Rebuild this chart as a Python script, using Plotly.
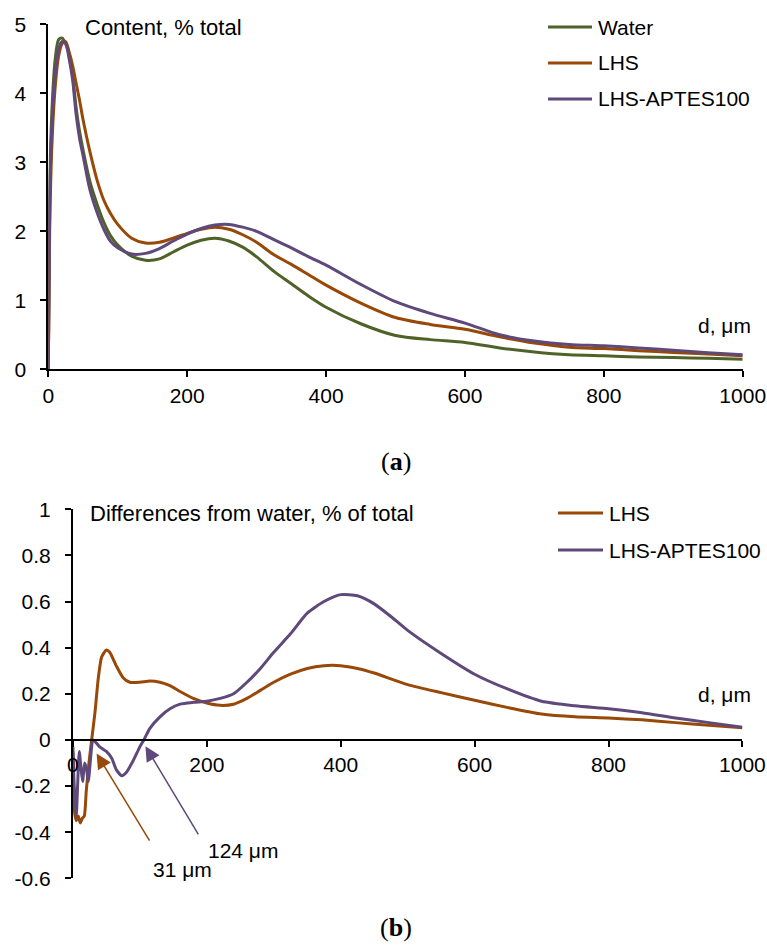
import plotly.graph_objects as go

# ---------------- data: panel (a) ----------------
top_d = [0, 2, 5, 10, 15, 20, 25, 30, 35, 40, 45, 50, 60, 70, 80, 90, 100, 120, 140, 160, 180,
         200, 220, 240, 260, 280, 300, 325, 350, 375, 400, 450, 500, 550, 600, 650, 700,
         750, 800, 850, 900, 950, 1000]
water = [0, 2.6, 3.7, 4.5, 4.78, 4.8, 4.72, 4.55, 4.25, 3.8, 3.45, 3.18, 2.72, 2.4, 2.13, 1.93, 1.8,
         1.64, 1.58, 1.6, 1.7, 1.8, 1.87, 1.9, 1.86, 1.77, 1.63, 1.42, 1.24, 1.06, 0.9, 0.66,
         0.49, 0.43, 0.39, 0.31, 0.25, 0.21, 0.195, 0.18, 0.17, 0.16, 0.145]
lhs = [0, 2.0, 3.2, 4.1, 4.55, 4.72, 4.75, 4.6, 4.4, 4.15, 3.9, 3.62, 3.15, 2.75, 2.45, 2.25, 2.1,
       1.9, 1.83, 1.84, 1.9, 1.97, 2.03, 2.06, 2.03, 1.95, 1.84, 1.66, 1.52, 1.37, 1.22, 0.96,
       0.75, 0.65, 0.58, 0.47, 0.38, 0.32, 0.3, 0.27, 0.245, 0.22, 0.195]
aptes = [0, 2.4, 3.5, 4.3, 4.65, 4.75, 4.72, 4.5, 4.2, 3.7, 3.35, 3.1, 2.6, 2.28, 2.03, 1.85, 1.76,
         1.67, 1.68, 1.75, 1.86, 1.96, 2.04, 2.09, 2.1, 2.06, 2.0, 1.88, 1.76, 1.63, 1.51, 1.23,
         0.98, 0.81, 0.67, 0.5, 0.41, 0.36, 0.34, 0.31, 0.275, 0.24, 0.21]

# ---------------- data: panel (b) ----------------
lhs_diff_d = [0, 2, 5, 8, 11, 14, 17, 20, 24, 28, 33, 38, 43, 50, 55, 65, 75, 85, 100, 115, 130,
              145, 160, 180, 200, 220, 240, 260, 280, 300, 325, 350, 375, 400, 425, 450, 500,
              550, 600, 650, 700, 750, 800, 850, 900, 950, 1000]
lhs_diff = [-0.05, -0.3, -0.35, -0.33, -0.36, -0.34, -0.33, -0.22, -0.1, 0.0, 0.12, 0.27, 0.36,
            0.39, 0.38, 0.32, 0.27, 0.25, 0.25, 0.255, 0.25, 0.235, 0.21, 0.18, 0.16, 0.15,
            0.155, 0.18, 0.215, 0.25, 0.285, 0.31, 0.322, 0.322, 0.31, 0.29, 0.24, 0.205, 0.172,
            0.14, 0.112, 0.1, 0.095, 0.087, 0.075, 0.064, 0.053]
aptes_diff_d = [0, 2, 5, 7, 9.5, 12, 14.5, 17.5, 20, 23, 27, 30, 40, 50, 58, 65, 73, 80, 90, 100,
                106, 115, 130, 145, 160, 180, 200, 220, 240, 260, 280, 300, 325, 350, 375, 400,
                425, 450, 475, 500, 550, 600, 650, 700, 750, 800, 850, 900, 950, 1000]
aptes_diff = [-0.03, -0.2, -0.33, -0.2, -0.05, -0.12, -0.18, -0.1, -0.12, -0.18, -0.06, 0.0,
              -0.03, -0.05, -0.08, -0.13, -0.155, -0.14, -0.09, -0.03, 0.0, 0.05, 0.1, 0.135,
              0.155, 0.163, 0.168, 0.18, 0.2, 0.25, 0.31, 0.38, 0.46, 0.55, 0.6, 0.63, 0.625,
              0.59, 0.535, 0.475, 0.375, 0.285, 0.22, 0.168, 0.148, 0.135, 0.118, 0.095, 0.075,
              0.055]

x_ticks = [0, 200, 400, 600, 800, 1000]
x_ticktext = ["0", "200", "400", "600", "800", "1000"]
ya_ticks = [0, 1, 2, 3, 4, 5]
ya_ticktext = ["0", "1", "2", "3", "4", "5"]
yb_ticks = [-0.6, -0.4, -0.2, 0, 0.2, 0.4, 0.6, 0.8, 1.0]
yb_ticktext = ["-0.6", "-0.4", "-0.2", "0", "0.2", "0.4", "0.6", "0.8", "1"]

GREEN = "#4F6228"
ORANGE = "#984807"
PURPLE = "#5F497A"
FONT = "Liberation Sans"
W, H = 767, 945

def px(x):
    return x / W

def py(y):
    return 1 - y / H

fig = go.Figure()
common = dict(mode="lines", line_shape="spline", showlegend=False)
fig.add_trace(go.Scatter(x=top_d, y=water, name="Water", line=dict(color=GREEN, width=3, smoothing=0.8), xaxis="x", yaxis="y", **common))
fig.add_trace(go.Scatter(x=top_d, y=lhs, name="LHS", line=dict(color=ORANGE, width=3, smoothing=0.8), xaxis="x", yaxis="y", **common))
fig.add_trace(go.Scatter(x=top_d, y=aptes, name="LHS-APTES100", line=dict(color=PURPLE, width=3, smoothing=0.8), xaxis="x", yaxis="y", **common))
fig.add_trace(go.Scatter(x=lhs_diff_d, y=lhs_diff, name="LHS", line=dict(color=ORANGE, width=3, smoothing=0.6), xaxis="x2", yaxis="y2", **common))
fig.add_trace(go.Scatter(x=aptes_diff_d, y=aptes_diff, name="LHS-APTES100", line=dict(color=PURPLE, width=3, smoothing=0.6), xaxis="x2", yaxis="y2", **common))

tickfont = dict(family=FONT, size=21, color="black")
axis_common = dict(showline=True, linecolor="black", linewidth=2, ticks="outside", ticklen=6,
                   tickwidth=2, tickcolor="black", showgrid=False, zeroline=False, tickfont=tickfont,
                   fixedrange=True, automargin=False)

fig.update_layout(
    width=W, height=H, margin=dict(l=0, r=0, t=0, b=0, autoexpand=False),
    paper_bgcolor="white", plot_bgcolor="white", showlegend=False,
    xaxis=dict(domain=[px(48.3), px(742.7)], range=[0, 1000], tickvals=x_ticks, ticktext=x_ticktext,
               anchor="y", **axis_common),
    yaxis=dict(domain=[py(369.3), py(24.3)], range=[0, 5], tickvals=ya_ticks, ticktext=ya_ticktext,
               anchor="x", ticklabelstandoff=10, **axis_common),
    xaxis2=dict(domain=[px(72.9), px(742.4)], range=[0, 1000], tickvals=x_ticks, ticktext=x_ticktext,
                anchor="free", position=py(739.7), **axis_common),
    yaxis2=dict(domain=[py(878.3), py(509.3)], range=[-0.6, 1.0], tickvals=yb_ticks, ticktext=yb_ticktext,
                anchor="x2", ticklabelstandoff=10, **axis_common),
)

ann = []
shapes = []
txtfont = dict(family=FONT, size=21, color="black")
# titles
ann.append(dict(xref="paper", yref="paper", x=px(83), y=py(27), text="Content, % total",
                showarrow=False, xanchor="left", yanchor="middle", font=dict(family=FONT, size=22, color="black")))
ann.append(dict(xref="paper", yref="paper", x=px(88), y=py(513), text="Differences from water, % of total",
                showarrow=False, xanchor="left", yanchor="middle", font=dict(family=FONT, size=22, color="black")))
# d, um labels
for yc in (325, 694):
    ann.append(dict(xref="paper", yref="paper", x=px(753), y=py(yc), text="d, μm",
                    showarrow=False, xanchor="right", yanchor="middle", font=txtfont))
# legends (manual)
for (label, col, yc) in (("Water", GREEN, 27), ("LHS", ORANGE, 63), ("LHS-APTES100", PURPLE, 99)):
    shapes.append(dict(type="line", xref="paper", yref="paper", x0=px(548), x1=px(592), y0=py(yc), y1=py(yc),
                       line=dict(color=col, width=3)))
    ann.append(dict(xref="paper", yref="paper", x=px(596), y=py(yc), text=label, showarrow=False,
                    xanchor="left", yanchor="middle", font=txtfont))
for (label, col, yc) in (("LHS", ORANGE, 513), ("LHS-APTES100", PURPLE, 550)):
    shapes.append(dict(type="line", xref="paper", yref="paper", x0=px(558), x1=px(603), y0=py(yc), y1=py(yc),
                       line=dict(color=col, width=3)))
    ann.append(dict(xref="paper", yref="paper", x=px(607), y=py(yc), text=label, showarrow=False,
                    xanchor="left", yanchor="middle", font=txtfont))
# arrows
ann.append(dict(xref="x2", yref="y2", axref="x2", ayref="y2", x=35.4, y=-0.059, ax=115.8, ay=-0.443,
                text="", showarrow=True, arrowhead=2, arrowsize=2.0, arrowwidth=1.5, arrowcolor=ORANGE))
ann.append(dict(xref="x2", yref="y2", axref="x2", ayref="y2", x=108.3, y=-0.027, ax=188.7, ay=-0.416,
                text="", showarrow=True, arrowhead=2, arrowsize=2.0, arrowwidth=1.5, arrowcolor=PURPLE))
ann.append(dict(xref="x2", yref="y2", x=163, y=-0.561, text="31 μm", showarrow=False,
                xanchor="center", yanchor="middle", font=txtfont))
ann.append(dict(xref="x2", yref="y2", x=254, y=-0.478, text="124 μm", showarrow=False,
                xanchor="center", yanchor="middle", font=txtfont))
# captions
capfont = dict(family="Liberation Serif", size=26, color="black")
ann.append(dict(xref="paper", yref="paper", x=px(396), y=py(461), text="(<b>a</b>)", showarrow=False,
                xanchor="center", yanchor="middle", font=capfont))
ann.append(dict(xref="paper", yref="paper", x=px(396), y=py(927), text="(<b>b</b>)", showarrow=False,
                xanchor="center", yanchor="middle", font=capfont))

fig.update_layout(annotations=ann, shapes=shapes)
fig.write_html("out.html", config={"displayModeBar": False},
               post_script="document.body.style.margin='0';document.body.style.overflow='hidden';"
                           "document.documentElement.style.overflow='hidden';")
